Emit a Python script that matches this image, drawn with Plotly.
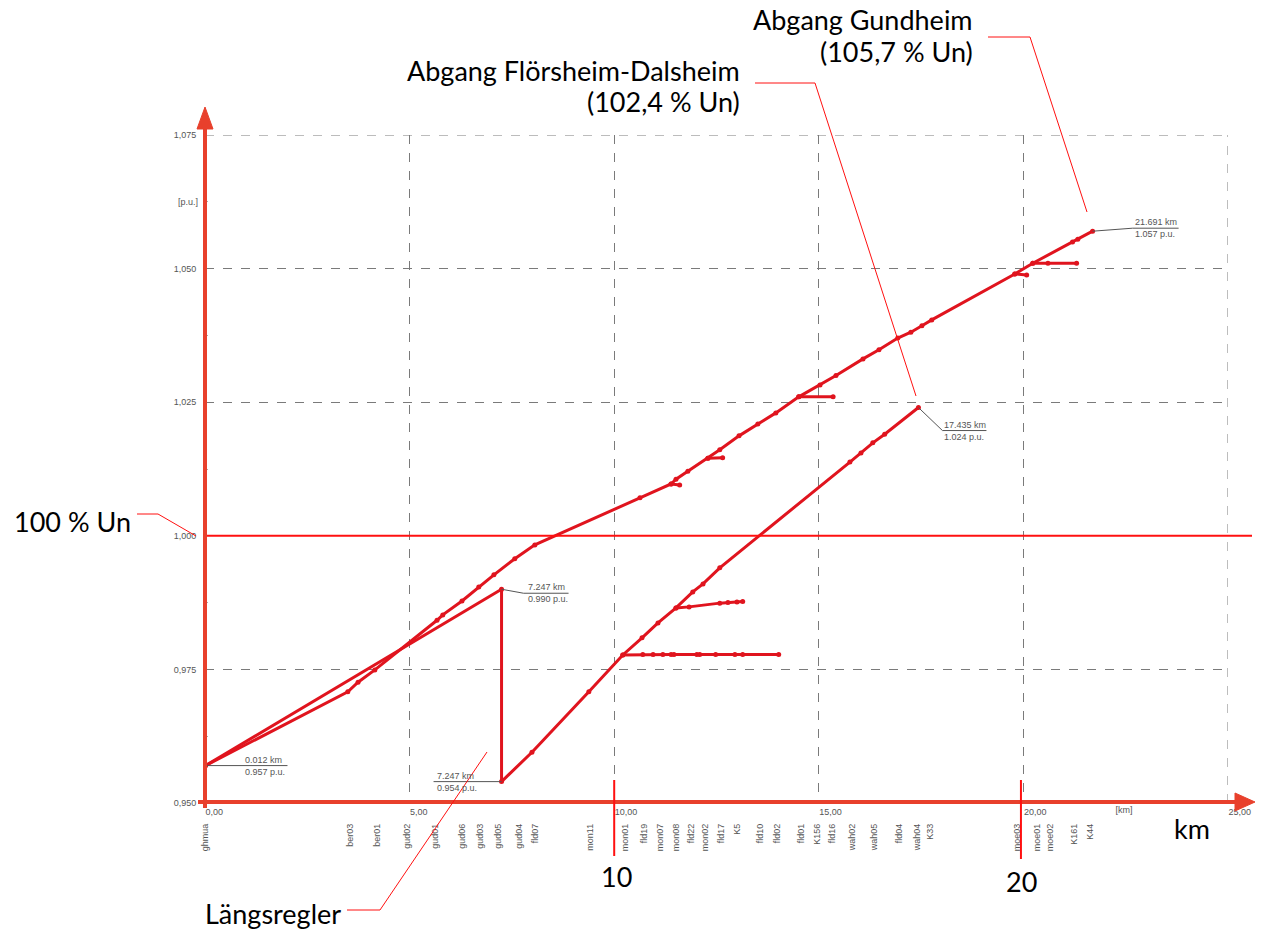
import plotly.graph_objects as go

# ---- node names along the feeder and their distance from the substation [km]
node_names = ["ghmua", "ber03", "ber01", "gud02", "gud01", "gud06", "gud03", "gud05", "gud04", "fld07",
              "mon11", "mon01", "fld19", "mon07", "mon08", "fld22", "mon02", "fld17", "K5", "fld10",
              "fld02", "fld01", "K156", "fld16", "wah02", "wah05", "fld04", "wah04", "K33", "moe03",
              "moe01", "moe02", "K161", "K44"]
node_km = [0.012, 3.55, 4.21, 4.95, 5.63, 6.29, 6.73, 7.15, 7.68, 8.07,
           9.42, 10.27, 10.74, 11.13, 11.52, 11.89, 12.23, 12.62, 13.01, 13.57,
           13.99, 14.57, 14.96, 15.33, 15.82, 16.36, 16.97, 17.41, 17.73, 19.85,
           20.34, 20.66, 21.24, 21.63]

# ---- voltage profile, feeder towards Gundheim
gundheim_km = [0.012, 3.49, 3.74, 4.15, 5.67, 5.81, 6.28, 6.69, 7.06, 7.57, 8.06, 10.63, 11.39,
               11.51, 11.80, 12.29, 12.58, 13.05, 13.51, 13.95, 14.51, 15.03, 15.42, 16.08, 16.47,
               16.93, 17.25, 17.52, 17.76, 19.79, 20.23, 21.20, 21.33, 21.691]
gundheim_pu = [0.957, 0.9708, 0.9726, 0.9749, 0.9842, 0.9852, 0.9878, 0.9904, 0.9927, 0.9957, 0.9983,
               1.0071, 1.0097, 1.0106, 1.0121, 1.0145, 1.0161, 1.0187, 1.0209, 1.0230, 1.0260, 1.0282,
               1.0300, 1.0331, 1.0348, 1.0370, 1.0381, 1.0393, 1.0404, 1.0490, 1.0510, 1.0550, 1.0555,
               1.057]

# ---- voltage profile, feeder towards Flörsheim-Dalsheim (with series regulator at 7.247 km)
flds_km = [0.012, 7.247, 7.247, 7.99, 9.38, 10.21, 10.68, 11.07, 11.51, 11.92, 12.17, 12.58,
           15.76, 16.03, 16.32, 16.61, 17.435]
flds_pu = [0.957, 0.990, 0.954, 0.9595, 0.9708, 0.9777, 0.9809, 0.9837, 0.9865, 0.9895, 0.9910,
           0.9940, 1.0138, 1.0155, 1.0174, 1.0190, 1.024]

# ---- side branches
mon01_branch_km = [10.21, 10.70, 10.95, 11.19, 11.39, 11.46, 12.02, 12.09, 12.48, 12.95, 13.14, 14.02]
mon01_branch_pu = [0.9777, 0.9778, 0.9778, 0.9778, 0.9778, 0.9778, 0.9778, 0.9778, 0.9778, 0.9778,
                   0.9778, 0.9778]
mon08_branch_km = [11.51, 11.83, 12.58, 12.78, 13.00, 13.14]
mon08_branch_pu = [0.9865, 0.9867, 0.9874, 0.9875, 0.9876, 0.9877]
stub_a_km = [11.39, 11.60]
stub_a_pu = [1.0097, 1.0095]
stub_b_km = [12.29, 12.65]
stub_b_pu = [1.0145, 1.0146]
stub_c_km = [14.51, 15.35]
stub_c_pu = [1.0260, 1.0260]
stub_d_km = [19.79, 20.08]
stub_d_pu = [1.0490, 1.0488]
stub_e_km = [20.23, 20.60, 21.30]
stub_e_pu = [1.0510, 1.0510, 1.0510]

x_ticks = [0, 5, 10, 15, 20, 25]
x_ticktext = ["0,00", "5,00", "10,00", "15,00", "20,00", "25,00"]
y_ticks = [0.950, 0.975, 1.000, 1.025, 1.050, 1.075]
y_ticktext = ["0,950", "0,975", "1,000", "1,025", "1,050", "1,075"]

# ---- geometry of the plotting area (pixels)
W, H = 1271, 940
L, R, T, B = 205, 1228, 135, 803
X0, X1 = 0.0, 25.0
Y0, Y1 = 0.950, 1.075
PX_KM = (R - L) / (X1 - X0)
PX_PU = (B - T) / (Y1 - Y0)


def paper(px, py):
    return (px - L) / (R - L), (B - py) / (B - T)


LINE_RED = "#e0141e"
AXIS_RED = "#e8402c"
HINT_RED = "#ff1010"
GREY = "#555555"
GRID = "#7a7a7a"
SMALL = dict(family="Liberation Sans, Arial, sans-serif", size=9, color=GREY)
BIG = dict(family="Lato, sans-serif", size=27, color="#000000")

fig = go.Figure()

branches = [
    (gundheim_km, gundheim_pu), (flds_km, flds_pu),
    (mon01_branch_km, mon01_branch_pu), (mon08_branch_km, mon08_branch_pu),
    (stub_a_km, stub_a_pu), (stub_b_km, stub_b_pu), (stub_c_km, stub_c_pu),
    (stub_d_km, stub_d_pu), (stub_e_km, stub_e_pu),
]
for xs, ys in branches:
    fig.add_trace(go.Scatter(
        x=xs, y=ys, mode="lines+markers",
        line=dict(color=LINE_RED, width=3),
        marker=dict(color=LINE_RED, size=5),
        hoverinfo="x+y", showlegend=False,
    ))

# invisible carriers so the overlaid label axes are drawn
fig.add_trace(go.Scatter(x=node_km, y=[Y0] * len(node_km), xaxis="x3", yaxis="y",
                         mode="markers", marker=dict(opacity=0), hoverinfo="skip",
                         showlegend=False))
fig.add_trace(go.Scatter(x=[22.25], y=[Y0], xaxis="x2", yaxis="y2",
                         mode="markers", marker=dict(opacity=0), hoverinfo="skip",
                         showlegend=False))

shapes = []
annotations = []

# ---- dashed frame on the top and right edges
shapes.append(dict(type="line", xref="x", yref="y", x0=X0, x1=X1, y0=Y1, y1=Y1,
                   line=dict(color=GRID, width=1, dash="dash"), layer="below"))
shapes.append(dict(type="line", xref="x", yref="y", x0=X1, x1=X1, y0=Y0, y1=Y1,
                   line=dict(color=GRID, width=1, dash="dash"), layer="below"))

# ---- value call-outs (km / p.u.) next to selected points
callouts = [
    # (km, pu, elbow dx, elbow dy, underline end dx, text left dx)
    (gundheim_km[0], gundheim_pu[0], 0, 0, 82, 39),
    (flds_km[1], flds_pu[1], 22, 4, 67, 25),
    (flds_km[2], flds_pu[2], 0, 0, -68, -66),
    (flds_km[-1], flds_pu[-1], 24, 23, 68, 25),
    (gundheim_km[-1], gundheim_pu[-1], 40, -3, 86, 41),
]
for km, pu, ex, ey, ux, tx in callouts:
    ekm, epu = km + ex / PX_KM, pu - ey / PX_PU
    ukm = km + ux / PX_KM
    shapes.append(dict(type="path", xref="x", yref="y", layer="above",
                       path=f"M {km} {pu} L {ekm} {epu} L {ukm} {epu}",
                       line=dict(color=GREY, width=1)))
    annotations.append(dict(x=km, y=epu, xref="x", yref="y", xshift=tx, yshift=0,
                            xanchor="left", yanchor="bottom", showarrow=False,
                            text=f"{km:.3f} km", font=SMALL, borderpad=0))
    annotations.append(dict(x=km, y=epu, xref="x", yref="y", xshift=tx, yshift=0,
                            xanchor="left", yanchor="top", showarrow=False,
                            text=f"{pu:.3f} p.u.", font=SMALL, borderpad=0))

# ---- 100 % Un reference line
x_end, _ = paper(1252, 0)
shapes.append(dict(type="line", xref="paper", yref="y", x0=0, x1=x_end, y0=1.0, y1=1.0,
                   line=dict(color=HINT_RED, width=2), layer="above"))

# ---- red axis arrows
ax, ay0 = paper(205, 808)
_, ay1 = paper(205, 126)
shapes.append(dict(type="line", xref="paper", yref="paper", x0=ax, x1=ax, y0=ay0, y1=ay1,
                   line=dict(color=AXIS_RED, width=4)))
t = paper(205, 107); b1 = paper(197, 129); b2 = paper(213, 129)
shapes.append(dict(type="path", xref="paper", yref="paper",
                   path=f"M {t[0]} {t[1]} L {b1[0]} {b1[1]} L {b2[0]} {b2[1]} Z",
                   fillcolor=AXIS_RED, line=dict(color=AXIS_RED, width=1)))
bx0, by = paper(198, 802)
bx1, _ = paper(1238, 802)
shapes.append(dict(type="line", xref="paper", yref="paper", x0=bx0, x1=bx1, y0=by, y1=by,
                   line=dict(color=AXIS_RED, width=4)))
t = paper(1255, 802); b1 = paper(1235, 793); b2 = paper(1235, 811)
shapes.append(dict(type="path", xref="paper", yref="paper",
                   path=f"M {t[0]} {t[1]} L {b1[0]} {b1[1]} L {b2[0]} {b2[1]} Z",
                   fillcolor=AXIS_RED, line=dict(color=AXIS_RED, width=1)))

# ---- marks at 10 km and 20 km below the axis
for km, ybot in [(10.0, 856), (19.94, 859)]:
    mx = (km - X0) / (X1 - X0)
    _, my0 = paper(0, 780)
    _, my1 = paper(0, ybot)
    shapes.append(dict(type="line", xref="paper", yref="paper", x0=mx, x1=mx, y0=my0, y1=my1,
                       line=dict(color=HINT_RED, width=2)))


def leader(points):
    pts = [paper(px, py) for px, py in points]
    d = "M " + " L ".join(f"{x} {y}" for x, y in pts)
    return dict(type="path", xref="paper", yref="paper", path=d,
                line=dict(color=HINT_RED, width=1))


shapes.append(leader([(988, 37), (1030, 37), (1087, 212)]))
shapes.append(leader([(755, 83), (815, 83), (916, 396)]))
shapes.append(leader([(137, 514), (158, 514), (196, 536)]))
shapes.append(leader([(347, 910), (380, 910), (487, 752)]))


def big_text(text, px, py, xanchor):
    x, y = paper(px, py)
    annotations.append(dict(x=x, y=y, xref="paper", yref="paper", text=text, showarrow=False,
                            xanchor=xanchor, yanchor="middle", font=BIG))


big_text("Abgang Gundheim", 975, 19, "right")
big_text("(105,7 % Un)", 975, 51, "right")
big_text("Abgang Flörsheim-Dalsheim", 742, 71, "right")
big_text("(102,4 % Un)", 742, 101, "right")
big_text("100 % Un", 133, 521, "right")
big_text("Längsregler", 343, 913, "right")
big_text("km", 1172, 828, "left")
big_text("10", 616, 876, "center")
big_text("20", 1021, 881, "center")

axis_common = dict(range=[X0, X1], fixedrange=True, zeroline=False, ticks="", tickfont=SMALL)
fig.update_layout(
    width=W, height=H,
    margin=dict(l=L, r=W - R, t=T, b=H - B, autoexpand=False),
    paper_bgcolor="white", plot_bgcolor="white",
    showlegend=False,
    xaxis=dict(**axis_common, tickvals=x_ticks, ticktext=x_ticktext,
               ticklabelposition="outside right",
               showgrid=True, gridcolor=GRID, griddash="dash", gridwidth=1,
               showline=True, linecolor="#8c8c8c", linewidth=1,
               minor=dict(tickvals=[2.5, 7.5, 12.5, 17.5, 22.5], ticks="inside",
                          ticklen=3, tickcolor="#aaaaaa", showgrid=False)),
    xaxis2=dict(**axis_common, overlaying="x", anchor="y", side="bottom",
                tickvals=[22.25], ticktext=["[km]"], ticklabelposition="outside right",
                showgrid=False, showline=False),
    xaxis3=dict(**axis_common, overlaying="x", anchor="y", side="bottom",
                tickvals=node_km, ticktext=node_names, tickangle=-90,
                ticklabelstandoff=18, showgrid=False, showline=False),
    yaxis=dict(range=[Y0, Y1], fixedrange=True, zeroline=False, ticks="",
               tickvals=y_ticks, ticktext=y_ticktext, tickfont=SMALL,
               showgrid=True, gridcolor=GRID, griddash="dash", gridwidth=1,
               showline=True, linecolor="#8c8c8c", linewidth=1, ticklabelstandoff=6,
               minor=dict(tickvals=[0.9625, 0.9875, 1.0125, 1.0375, 1.0625], ticks="inside",
                          ticklen=3, tickcolor="#aaaaaa", showgrid=False)),
    yaxis2=dict(range=[Y0, Y1], fixedrange=True, zeroline=False, ticks="",
                overlaying="y", anchor="x", side="left",
                tickvals=[1.0625], ticktext=["[p.u.]"], tickfont=SMALL,
                showgrid=False, showline=False, ticklabelstandoff=6),
    shapes=shapes,
    annotations=annotations,
)

fig.write_html("out.html")
